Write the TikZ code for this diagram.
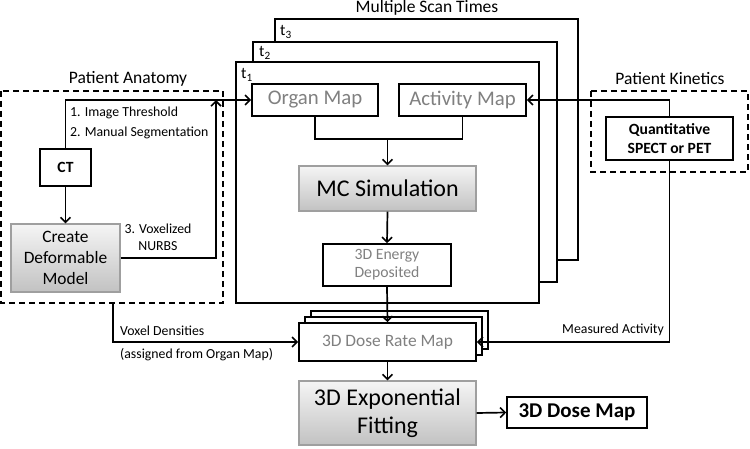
\documentclass[tikz,border=0pt]{standalone}
\usepackage{fontspec}
\setmainfont{Carlito}
\usetikzlibrary{arrows.meta}

\tikzset{
  conn/.style={line width=1.7pt, -{Straight Barb[length=5pt,width=10pt,line width=1.6pt]}},
  wire/.style={line width=1.7pt},
  blk/.style={draw, line width=1.6pt, fill=white, inner sep=0pt, align=center},
  shd/.style={draw=gray!75, line width=1.2pt, top color=gray!8, bottom color=gray!48, inner sep=0pt, align=center},
  grp/.style={draw, line width=1.5pt, dash pattern=on 6pt off 4pt},
  frm/.style={draw, line width=1.6pt, fill=white},
  lbl/.style={inner sep=0pt, font=\fontsize{13.8}{17}\selectfont},
  ttl/.style={inner sep=0pt, font=\fontsize{17.5}{20}\selectfont}
}

\begin{document}
\begin{tikzpicture}[x=1pt, y=-1pt]
		\useasboundingbox (0,0) rectangle (750,449);

		% Scan time frames
		\draw[frm] (275,19) rectangle (578,260);
		\draw[frm] (253,42) rectangle (557,282);
		\draw[frm] (236,62) rectangle (539,303);
		\node[ttl] (scan) at (427,8) {Multiple Scan Times};
		\node[inner sep=0pt, anchor=west, font=\fontsize{16}{18}\selectfont] (t3) at (280,32) {t\textsubscript{3}};
		\node[inner sep=0pt, anchor=west, font=\fontsize{16}{18}\selectfont] (t2) at (259,53) {t\textsubscript{2}};
		\node[inner sep=0pt, anchor=west, font=\fontsize{16}{18}\selectfont] (t1) at (241,75) {t\textsubscript{1}};

		% Groups
		\draw[grp] (1,91) rectangle (223,303);
		\draw[grp] (591,91) rectangle (748,172);
		\node[ttl] (anat) at (128,79) {Patient Anatomy};
		\node[ttl] (kin) at (670,79) {Patient Kinetics};

		% Boxes
		\node[blk, minimum width=51pt, minimum height=37pt, font=\bfseries\fontsize{15.6}{19}\selectfont] (ct) at (65.5,167.5) {CT};
		\node[shd, minimum width=109pt, minimum height=68pt, font=\fontsize{17.4}{21}\selectfont] (model) at (65.5,258) {Create\\Deformable\\Model};
		\node[blk, minimum width=126pt, minimum height=32pt, text=gray, font=\fontsize{20.8}{24}\selectfont] (organ) at (315,100) {Organ Map};
		\node[blk, minimum width=127pt, minimum height=32pt, text=gray, font=\fontsize{20.8}{24}\selectfont] (activity) at (462.5,100) {Activity Map};
		\node[shd, minimum width=177pt, minimum height=45pt, font=\fontsize{24}{28}\selectfont] (mc) at (387.5,188.5) {MC Simulation};
		\node[blk, minimum width=128pt, minimum height=42pt, text=gray, font=\fontsize{15.7}{18}\selectfont] (energy) at (387,265) {3D Energy\\Deposited};
		\foreach \d in {12,6}
			\draw[frm] (299+\d,323-\d) rectangle (476+\d,361-\d);
		\node[blk, minimum width=177pt, minimum height=38pt, text=gray, font=\fontsize{17.4}{21}\selectfont] (rate) at (387.5,342) {3D Dose Rate Map};
		\node[shd, minimum width=177pt, minimum height=64pt, font=\fontsize{24}{28}\selectfont] (fit) at (387.5,413) {3D Exponential\\Fitting};
		\node[blk, minimum width=140pt, minimum height=31pt, font=\bfseries\fontsize{21}{24}\selectfont] (dose) at (577,412.5) {3D Dose Map};
		\node[blk, minimum width=127pt, minimum height=43pt, font=\bfseries\fontsize{15.6}{19}\selectfont] (spect) at (669.5,138.5) {Quantitative\\SPECT or PET};

		% Connectors
		\coordinate (up) at (216,100);
		\coordinate (merge) at (387.5,139);
		\coordinate (vox) at (113,303);
		\draw[conn] (ct.north) |- (organ.west);
		\draw[conn] (ct.south) -- (model.north);
		\draw[conn] (model.east) -| (up);
		\draw[wire] (organ.south) |- (merge) -| (activity.south);
		\draw[conn] (merge) -- (mc.north);
		\draw[conn] (mc.south) -- (energy.north);
		\draw[conn] (energy.south) -- (rate.north);
		\draw[conn] (spect.north) |- (activity.east);
		\draw[conn] (spect.south) |- (rate.east);
		\draw[conn] (vox) |- (rate.west);
		\draw[conn] (rate.south) -- (fit.north);
		\draw[conn] (fit.east) -- (dose.west);

		% Labels
		\node[lbl, anchor=west] (thr) at (70,113) {1. Image Threshold};
		\node[lbl, anchor=west] (seg) at (70,133) {2. Manual Segmentation};
		\node[lbl, align=center] (nurbs) at (158,237.5) {3. Voxelized\\NURBS};
		\node[lbl, anchor=west] (dens) at (120,331) {Voxel Densities};
		\node[lbl, anchor=west] (asgn) at (120,355) {(assigned from Organ Map)};
		\node[lbl, anchor=east] (meas) at (664,330) {Measured Activity};
\end{tikzpicture}
\end{document}
